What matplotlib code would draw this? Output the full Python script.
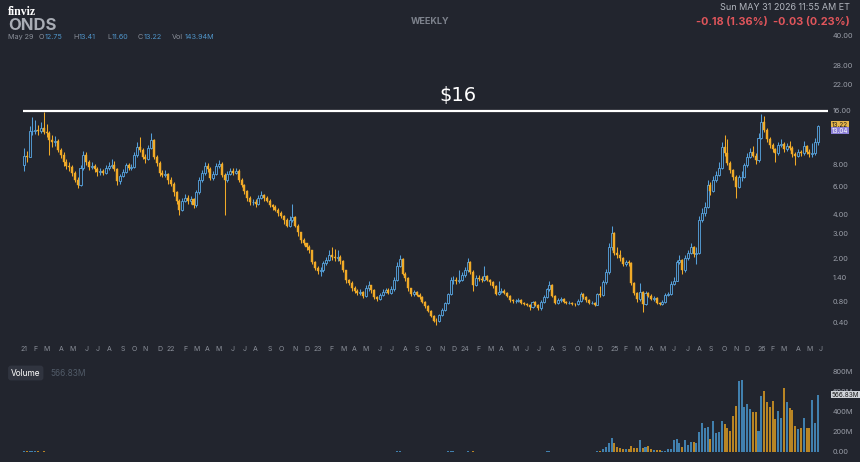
import numpy as np
import pandas as pd
import matplotlib
matplotlib.use('Agg')
import matplotlib.pyplot as plt

# weekly candles, first week starts 2021-01-04
opens = [
    8.0, 9.0, 8.9, 12.3, 12.3, 12.5, 12.4, 12.8, 12.2, 12.0, 11.0, 10.7, 10.9, 9.7, 9.1, 8.3, 7.9, 7.8, 7.2, 6.5,
    6.1, 7.7, 9.1, 8.3, 7.8, 7.9, 7.6, 7.3, 7.4, 7.2, 7.7, 7.9, 8.0, 7.6, 6.4, 6.9, 7.3, 8.0, 7.7, 7.8,
    9.1, 10.1, 9.7, 8.9, 8.6, 10.0, 11.0, 8.9, 8.2, 7.2, 7.0, 7.1,
    6.5, 6.2, 5.5, 4.9, 4.3, 4.9, 5.1, 4.9, 5.0, 4.6, 5.5, 6.5, 7.2, 7.9, 7.6, 6.7, 7.1, 7.9, 8.1, 7.0,
    6.5, 7.1, 7.4, 7.2, 7.4, 6.5, 6.1, 5.6, 5.1, 4.8, 4.8, 4.7, 5.1, 5.3, 5.1, 4.9, 4.6, 4.5, 4.3, 4.1,
    3.9, 3.7, 3.4, 3.7, 3.85, 3.4, 3.1, 2.7, 2.6, 2.4, 2.3, 1.86,
    1.67, 1.58, 1.6, 1.83, 1.93, 2.1, 2.05, 2.0, 2.05, 1.9, 1.6, 1.32, 1.25, 1.1, 1.05, 1.0, 1.02, 0.93, 1.1, 1.19,
    1.06, 0.9, 0.85, 0.95, 1.02, 1.06, 1.0, 1.08, 1.32, 1.74, 1.96, 1.5, 1.37, 1.1, 0.97, 1.02, 0.95, 0.9, 0.8, 0.7,
    0.62, 0.52, 0.44, 0.43, 0.54, 0.63, 0.77, 0.97, 1.32, 1.32, 1.3, 1.32,
    1.46, 1.6, 1.86, 1.55, 1.19, 1.37, 1.35, 1.32, 1.42, 1.32, 1.26, 1.16, 0.97, 1.02, 1.04, 1.0, 0.93, 0.83, 0.81, 0.82,
    0.84, 0.77, 0.75, 0.72, 0.68, 0.79, 0.73, 0.66, 0.8, 0.9, 1.08, 1.2, 0.93, 0.77, 0.83, 0.85, 0.79, 0.77, 0.78, 0.75,
    0.74, 0.82, 0.97, 0.9, 0.83, 0.77, 0.78, 0.73, 0.97, 0.95, 1.26, 1.55,
    2.4, 3.05, 2.2, 2.1, 2.0, 1.8, 1.85, 1.83, 1.24, 1.0, 0.85, 1.02, 0.74, 1.0, 0.93, 0.86, 0.88, 0.77, 0.75, 0.8,
    0.95, 0.97, 1.22, 1.3, 1.86, 1.93, 1.6, 2.0, 2.2, 2.4, 2.15, 2.2, 3.7, 4.1, 4.5, 6.1, 5.6, 6.5, 7.0, 7.7,
    10.1, 9.3, 8.2, 7.45, 6.8, 5.9, 6.8, 6.8, 7.95, 8.9, 9.5, 9.0,
    8.5, 11.3, 13.8, 12.5, 11.1, 10.3, 9.8, 9.3, 10.3, 10.5, 9.8, 10.2, 10.0, 9.2, 9.0, 9.5, 9.3, 10.2, 9.5, 9.2,
    9.3, 10.7,
]
highs = [
    10.0, 9.6, 13.2, 14.8, 14.2, 13.4, 13.9, 15.7, 13.5, 12.4, 11.8, 11.6, 11.2, 10.0, 9.4, 8.6, 8.3, 8.0, 7.4, 6.8,
    8.0, 9.6, 9.5, 8.5, 8.3, 8.1, 7.8, 7.7, 7.6, 8.0, 8.3, 8.6, 8.4, 7.7, 7.1, 7.6, 8.2, 8.2, 8.1, 9.4,
    10.8, 11.4, 10.0, 9.2, 10.4, 12.0, 11.2, 9.1, 8.4, 7.5, 7.5, 7.2,
    6.8, 6.3, 5.6, 5.0, 5.1, 5.4, 5.3, 5.2, 5.1, 5.7, 6.8, 7.5, 8.3, 8.2, 7.8, 7.4, 8.2, 8.5, 8.3, 7.2,
    7.4, 7.7, 7.7, 7.7, 7.6, 6.7, 6.2, 5.7, 5.2, 5.0, 5.0, 5.3, 5.6, 5.4, 5.2, 5.0, 4.7, 4.6, 4.4, 4.2,
    4.0, 3.8, 3.9, 4.7, 3.9, 3.5, 3.1, 2.8, 2.6, 2.5, 2.3, 1.9,
    1.75, 1.7, 1.9, 2.05, 2.3, 2.4, 2.35, 2.3, 2.1, 1.95, 1.62, 1.36, 1.28, 1.15, 1.08, 1.08, 1.05, 1.2, 1.3, 1.2,
    1.08, 0.93, 1.0, 1.08, 1.12, 1.1, 1.15, 1.4, 1.85, 2.1, 2.0, 1.55, 1.4, 1.12, 1.06, 1.04, 0.98, 0.92, 0.82, 0.72,
    0.64, 0.54, 0.48, 0.56, 0.66, 0.8, 1.0, 1.4, 1.42, 1.4, 1.6, 1.55,
    1.7, 2.0, 1.9, 1.6, 1.45, 1.45, 1.42, 1.75, 1.45, 1.35, 1.3, 1.18, 1.3, 1.1, 1.08, 1.02, 0.95, 0.86, 0.86, 0.88,
    0.86, 0.8, 0.77, 0.74, 0.82, 0.81, 0.75, 0.83, 0.94, 1.12, 1.3, 1.22, 0.95, 0.87, 0.9, 0.87, 0.82, 0.81, 0.8, 0.78,
    0.85, 1.02, 1.0, 0.92, 0.85, 0.81, 0.8, 1.0, 1.15, 1.32, 1.65, 2.6,
    3.4, 3.1, 2.4, 2.3, 2.05, 1.95, 1.95, 1.85, 1.26, 1.02, 1.25, 1.04, 1.05, 1.02, 0.96, 0.93, 0.9, 0.8, 0.84, 0.98,
    1.02, 1.28, 1.4, 1.95, 2.1, 1.98, 2.1, 2.3, 2.6, 2.45, 2.4, 3.9, 4.4, 4.8, 6.5, 6.3, 6.9, 7.4, 8.3, 10.8,
    11.7, 11.2, 8.4, 7.6, 7.0, 7.0, 7.4, 8.2, 9.3, 9.9, 10.2, 9.3,
    12.0, 15.3, 15.0, 12.8, 11.4, 10.6, 10.0, 10.7, 11.2, 10.7, 10.6, 10.9, 10.2, 9.4, 9.8, 9.7, 10.9, 10.4, 9.8, 10.6,
    11.3, 13.41,
]
lows = [
    7.4, 8.3, 8.8, 11.8, 11.9, 11.8, 12.0, 11.9, 11.5, 9.1, 10.1, 10.2, 9.4, 8.7, 7.9, 7.6, 7.4, 6.9, 6.3, 5.8,
    6.0, 7.5, 8.0, 7.5, 7.6, 7.3, 6.9, 7.0, 7.0, 7.1, 7.5, 7.7, 7.4, 6.1, 6.2, 6.8, 7.2, 7.5, 7.5, 7.7,
    8.9, 9.4, 8.6, 8.2, 8.5, 9.8, 8.6, 7.9, 6.9, 6.8, 6.8, 6.2,
    6.0, 5.2, 4.7, 4.0, 4.2, 4.8, 4.7, 4.7, 4.4, 4.5, 5.4, 6.3, 7.0, 7.3, 6.5, 6.5, 7.0, 7.7, 6.8, 4.0,
    6.3, 7.0, 7.0, 7.1, 6.3, 5.9, 5.4, 4.9, 4.6, 4.6, 4.5, 4.6, 5.0, 4.9, 4.8, 4.5, 4.3, 4.2, 3.9, 3.8,
    3.5, 3.3, 3.3, 3.6, 3.3, 2.9, 2.6, 2.5, 2.3, 2.2, 1.8, 1.6,
    1.5, 1.42, 1.55, 1.78, 1.9, 1.95, 1.9, 1.9, 1.8, 1.55, 1.25, 1.18, 1.05, 1.0, 0.95, 0.95, 0.88, 0.9, 1.05, 1.0,
    0.86, 0.82, 0.83, 0.92, 0.98, 0.96, 0.96, 1.05, 1.3, 1.7, 1.45, 1.3, 1.05, 0.93, 0.93, 0.92, 0.86, 0.77, 0.67, 0.59,
    0.5, 0.42, 0.36, 0.41, 0.52, 0.61, 0.75, 0.95, 1.22, 1.22, 1.25, 1.28,
    1.4, 1.55, 1.5, 1.05, 1.15, 1.3, 1.27, 1.3, 1.28, 1.2, 1.12, 0.94, 0.95, 0.98, 0.96, 0.9, 0.8, 0.78, 0.78, 0.8,
    0.75, 0.72, 0.7, 0.64, 0.66, 0.7, 0.63, 0.63, 0.78, 0.88, 1.05, 0.9, 0.74, 0.75, 0.8, 0.77, 0.74, 0.74, 0.72, 0.71,
    0.72, 0.8, 0.86, 0.8, 0.74, 0.74, 0.7, 0.72, 0.9, 0.93, 1.22, 1.5,
    2.3, 2.1, 2.0, 1.9, 1.75, 1.72, 1.75, 1.2, 0.95, 0.8, 0.82, 0.59, 0.72, 0.9, 0.83, 0.82, 0.74, 0.72, 0.73, 0.78,
    0.92, 0.95, 1.18, 1.28, 1.8, 1.5, 1.55, 1.95, 2.15, 2.05, 1.8, 2.15, 3.6, 3.9, 4.4, 5.3, 5.5, 6.3, 6.9, 7.6,
    9.0, 8.0, 7.2, 6.5, 5.1, 5.8, 6.4, 6.7, 7.8, 8.7, 8.8, 8.1,
    8.3, 11.1, 12.2, 10.8, 10.0, 9.5, 8.3, 9.1, 10.1, 9.5, 9.6, 9.7, 8.9, 8.0, 8.8, 9.0, 9.1, 9.2, 8.9, 8.9,
    9.1, 10.4,
]
closes = [
    9.0, 8.9, 12.3, 12.3, 12.5, 12.4, 12.8, 12.2, 12.0, 11.0, 10.7, 10.9, 9.7, 9.1, 8.3, 7.9, 7.8, 7.2, 6.5, 6.1,
    7.7, 9.1, 8.3, 7.8, 7.9, 7.6, 7.3, 7.4, 7.2, 7.7, 7.9, 8.0, 7.6, 6.4, 6.9, 7.3, 8.0, 7.7, 7.8, 9.1,
    10.1, 9.7, 8.9, 8.6, 10.0, 11.0, 8.9, 8.2, 7.2, 7.0, 7.1, 6.5,
    6.2, 5.5, 4.9, 4.3, 4.9, 5.1, 4.9, 5.0, 4.6, 5.5, 6.5, 7.2, 7.9, 7.6, 6.7, 7.1, 7.9, 8.1, 7.0, 6.5,
    7.1, 7.4, 7.2, 7.4, 6.5, 6.1, 5.6, 5.1, 4.8, 4.8, 4.7, 5.1, 5.3, 5.1, 4.9, 4.6, 4.5, 4.3, 4.1, 3.9,
    3.7, 3.4, 3.7, 3.85, 3.4, 3.1, 2.7, 2.6, 2.4, 2.3, 1.86, 1.67,
    1.58, 1.6, 1.83, 1.93, 2.1, 2.05, 2.0, 2.05, 1.9, 1.6, 1.32, 1.25, 1.1, 1.05, 1.0, 1.02, 0.93, 1.1, 1.19, 1.06,
    0.9, 0.85, 0.95, 1.02, 1.06, 1.0, 1.08, 1.32, 1.74, 1.96, 1.5, 1.37, 1.1, 0.97, 1.02, 0.95, 0.9, 0.8, 0.7, 0.62,
    0.52, 0.44, 0.43, 0.54, 0.63, 0.77, 0.97, 1.32, 1.32, 1.3, 1.32, 1.46,
    1.6, 1.86, 1.55, 1.19, 1.37, 1.35, 1.32, 1.42, 1.32, 1.26, 1.16, 0.97, 1.02, 1.04, 1.0, 0.93, 0.83, 0.81, 0.82, 0.84,
    0.77, 0.75, 0.72, 0.68, 0.79, 0.73, 0.66, 0.8, 0.9, 1.08, 1.2, 0.93, 0.77, 0.83, 0.85, 0.79, 0.77, 0.78, 0.75, 0.74,
    0.82, 0.97, 0.9, 0.83, 0.77, 0.78, 0.73, 0.97, 0.95, 1.26, 1.55, 2.4,
    3.05, 2.2, 2.1, 2.0, 1.8, 1.85, 1.83, 1.24, 1.0, 0.85, 1.02, 0.74, 1.0, 0.93, 0.86, 0.88, 0.77, 0.75, 0.8, 0.95,
    0.97, 1.22, 1.3, 1.86, 1.93, 1.6, 2.0, 2.2, 2.4, 2.15, 2.2, 3.7, 4.1, 4.5, 6.1, 5.6, 6.5, 7.0, 7.7, 10.1,
    9.3, 8.2, 7.45, 6.8, 5.9, 6.8, 6.8, 7.95, 8.9, 9.5, 9.0, 8.5,
    11.3, 13.8, 12.5, 11.1, 10.3, 9.8, 9.3, 10.3, 10.5, 9.8, 10.2, 10.0, 9.2, 9.0, 9.5, 9.3, 10.2, 9.5, 9.2, 9.3,
    10.7, 13.22,
]
# weekly volume, millions of shares
volumes = [
    6, 5, 14, 9, 7, 5, 4, 6, 4, 3, 3, 2, 2, 2, 2, 2, 2, 2, 2, 2,
    3, 4, 2, 2, 2, 1, 1, 1, 1, 2, 2, 2, 1, 2, 2, 2, 2, 2, 2, 3,
    4, 3, 2, 2, 3, 4, 3, 2, 2, 1, 1, 1,
    1, 2, 2, 3, 2, 1, 1, 1, 1, 2, 3, 2, 2, 2, 2, 1, 2, 2, 2, 2,
    1, 1, 1, 1, 1, 1, 1, 1, 1, 1, 1, 1, 1, 1, 1, 1, 1, 1, 1, 1,
    1, 1, 2, 2, 1, 1, 2, 1, 1, 1, 2, 2,
    2, 2, 2, 2, 3, 2, 2, 2, 1, 2, 3, 2, 2, 2, 2, 1, 2, 2, 2, 2,
    2, 2, 2, 1, 1, 1, 2, 4, 7, 5, 3, 2, 2, 2, 1, 1, 1, 2, 2, 2,
    3, 3, 3, 3, 3, 4, 5, 9, 5, 3, 3, 3,
    4, 6, 4, 5, 3, 2, 2, 3, 2, 2, 2, 3, 2, 2, 2, 2, 2, 2, 2, 2,
    2, 2, 2, 2, 2, 2, 2, 3, 3, 5, 6, 4, 3, 2, 2, 2, 2, 2, 2, 2,
    2, 4, 3, 2, 2, 2, 2, 6, 10, 25, 45, 90,
    140, 90, 50, 35, 30, 25, 25, 55, 40, 35, 120, 40, 45, 60, 28, 18, 18, 15, 12, 14,
    25, 28, 120, 125, 90, 45, 115, 70, 95, 100, 85, 200, 290, 240, 250, 125, 307, 190, 200, 307,
    274, 240, 205, 356, 455, 700, 710, 440, 470, 430, 400, 395,
    208, 554, 600, 490, 440, 505, 323, 406, 340, 637, 490, 432, 412, 257, 224, 240, 340, 235, 235, 512,
    290, 567,
]
start_week = '2021-01-04'
price_ticks = [0.40, 0.80, 1.40, 2.00, 3.00, 4.00, 6.00, 8.00, 16.00, 22.00, 28.00, 40.00]
volume_ticks = [0, 200, 400, 600, 800]
volume_tick_labels = ['0.00', '200M', '400M', '600M', '800M']
level = 16

BG = '#22252e'
BLUE = '#559fd8'
ORANGE = '#f0aa28'
GRAY = '#9a9ea8'

plt.rcParams['font.family'] = ['Inter', 'DejaVu Sans']

o = np.array(opens)
h = np.array(highs)
l = np.array(lows)
c = np.array(closes)
v = np.array(volumes)
idx = np.arange(len(c))
up = c >= o
# one extra week so the June label at the right edge gets a slot
dates = pd.date_range(start_week, periods=len(c) + 1, freq='7D')

W, H = 860, 462
fig = plt.figure(figsize=(W / 100, H / 100), dpi=100, facecolor=BG)
ax = fig.add_axes([15 / W, 1 - 340 / H, 815 / W, 310 / H], facecolor=BG)
vax = fig.add_axes([15 / W, 1 - 452 / H, 815 / W, 87 / H], facecolor='none')

# candle i sits at x = 24 + 2.825 * i pixels
ax.set_xlim(-9 / 2.825, 806 / 2.825)
vax.set_xlim(ax.get_xlim())
for a in (ax, vax):
    for s in a.spines.values():
        s.set_visible(False)


def fwd(y):
    return np.log10(np.clip(y, -0.99, None) + 1)


def inv(y):
    return 10 ** y - 1


ax.set_yscale('function', functions=(fwd, inv))
ax.set_ylim(0.146, 42.8)

# candles
ax.vlines(idx, l, h, colors=np.where(up, BLUE, ORANGE), linewidth=0.75, zorder=2)
ax.bar(idx[up], (c - o)[up], bottom=o[up], width=0.72, facecolor=BG, edgecolor=BLUE, linewidth=0.65, zorder=3)
ax.bar(idx[~up], (o - c)[~up], bottom=c[~up], width=0.72, facecolor=ORANGE, edgecolor=ORANGE, linewidth=0.3,
       zorder=3)

# drawn level
ax.hlines(level, -0.4, 284.6, color='white', linewidth=1.6, zorder=4)
ax.text(153.6, 19.2, '\\$16', color='white', fontsize=14, ha='center', va='center',
        family='DejaVu Sans', fontweight='normal')

ax.yaxis.tick_right()
ax.set_yticks(price_ticks)
ax.set_yticklabels(['%.2f' % t for t in price_ticks])
ax.yaxis.set_minor_locator(plt.NullLocator())
ax.tick_params(axis='y', length=0, pad=2, labelsize=5.3, labelcolor=GRAY)

# month labels
pos, labs = [], []
prev = None
for i, d in enumerate(dates):
    if d.month != prev:
        pos.append(i)
        labs.append('%02d' % (d.year % 100) if d.month == 1 else d.strftime('%b')[0])
        prev = d.month
ax.set_xticks(pos)
ax.set_xticklabels(labs)
ax.tick_params(axis='x', length=0, pad=4, labelsize=5, labelcolor='#8b909a')

for txt, yv, fc, tc in [('13.22', 13.42, '#e6b54a', '#1c1c1c'), ('13.04', 12.43, '#8b7fd6', 'white')]:
    ax.text(1.002, yv, txt, transform=ax.get_yaxis_transform(), fontsize=4.6, color=tc, va='center', ha='left',
            bbox=dict(boxstyle='square,pad=0.12', fc=fc, ec='none'), zorder=6)

# volume
vcol = np.where(up, '#4180ae', '#b98524')
vax.bar(idx, v, width=0.72, color=vcol, linewidth=0)
vax.set_ylim(0, 860)
vax.yaxis.tick_right()
vax.set_yticks(volume_ticks)
vax.set_yticklabels(volume_tick_labels)
vax.set_xticks([])
vax.tick_params(axis='y', length=0, pad=2, labelsize=5.3, labelcolor=GRAY)
vax.text(1.002, v[-1], '566.83M', transform=vax.get_yaxis_transform(), fontsize=4.6, color='#1c1c1c',
         va='center', ha='left', bbox=dict(boxstyle='square,pad=0.12', fc='#cfd2d8', ec='none'), zorder=6)

fig.text(11 / W, 1 - 373 / H, 'Volume', color='white', fontsize=6, va='center', ha='left',
         bbox=dict(boxstyle='round,pad=0.35', fc='#30343f', ec='none'))
fig.text(50 / W, 1 - 373 / H, '566.83M', color='#515b68', fontsize=6, va='center', ha='left')

# header
fig.text(8 / W, 1 - 12 / H, 'finviz', color='white', fontsize=8.5, fontweight='bold', family='Liberation Serif',
         va='center')
fig.text(8 / W, 1 - 26 / H, 'ONDS', color='#a9adb5', fontsize=12, fontweight='bold', va='center')
fig.text(8 / W, 1 - 37 / H, 'May 29', color='#8b909a', fontsize=5.2, va='center')
for x, k, dx, val in [(39, 'O', 6, '12.75'), (73, 'H', 5.5, '13.41'), (107, 'L', 4.5, '11.60'),
                      (138, 'C', 5.5, '13.22'), (172, 'Vol', 12.5, '143.94M')]:
    fig.text(x / W, 1 - 37 / H, k, color='#8b909a', fontsize=5.2, va='center')
    fig.text((x + dx) / W, 1 - 37 / H, val, color='#4f94c8', fontsize=5.2, va='center')
fig.text(430 / W, 1 - 21 / H, 'WEEKLY', color='#7d828c', fontsize=6.5, fontweight='bold', ha='center', va='center')
fig.text(850 / W, 1 - 8 / H, 'Sun MAY 31 2026 11:55 AM ET', color='#b2b6be', fontsize=6.5, ha='right', va='center')
fig.text(850 / W, 1 - 22 / H, '-0.18 (1.36%)  -0.03 (0.23%)', color='#e0555b', fontsize=7.8, ha='right',
         va='center', fontweight='bold')

fig.savefig('out.png', dpi=100, facecolor=BG)
